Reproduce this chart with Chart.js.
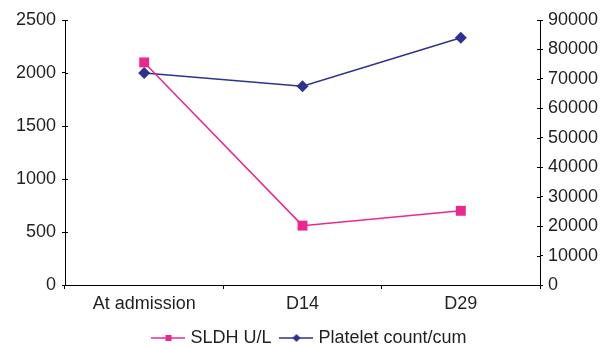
<!DOCTYPE html>
<html>
<head>
<meta charset="utf-8">
<script src="https://cdn.jsdelivr.net/npm/chart.js@4"></script>
<style>
  html, body { margin: 0; padding: 0; background: #fff; }
  #wrap { width: 614px; height: 348px; }
</style>
</head>
<body>
<div id="wrap"><canvas id="chart"></canvas></div>
<script>
// Chart data
const categories = ['At admission', 'D14', 'D29'];
const sldhValues = [2100, 560, 700];
const plateletValues = [72000, 67500, 84000];
const seriesNames = ['SLDH U/L', 'Platelet count/cum'];

const pink = '#ec268f';
const navy = '#2e3192';
const textColor = '#231f20';
const font = { family: '"Liberation Sans", Arial, sans-serif', size: 18 };

// Legend icon: short line with the marker in the middle
const legendIcon = (color, shape) => {
    const c = document.createElement('canvas');
    c.width = 34;
    c.height = 12;
    const ctx = c.getContext('2d');
    ctx.strokeStyle = color;
    ctx.lineWidth = 1.5;
    ctx.beginPath();
    ctx.moveTo(0, 6);
    ctx.lineTo(34, 6);
    ctx.stroke();
    ctx.fillStyle = color;
    ctx.beginPath();
    if (shape === 'rect') {
        ctx.rect(14, 3, 6, 6);
    } else {
        ctx.moveTo(17, 2);
        ctx.lineTo(21, 6);
        ctx.lineTo(17, 10);
        ctx.lineTo(13, 6);
        ctx.closePath();
    }
    ctx.fill();
    return c;
};

// Small tick marks on the inner side of both value axes
const innerTicks = {
    id: 'innerTicks',
    afterDraw(chart) {
        const ctx = chart.ctx;
        ctx.save();
        ctx.strokeStyle = '#000';
        ctx.lineWidth = 1;
        ['y', 'y1'].forEach(id => {
            const scale = chart.scales[id];
            const x = id === 'y' ? scale.right : scale.left;
            const dir = id === 'y' ? 1 : -1;
            scale.ticks.forEach((t, i) => {
                const y = Math.round(scale.getPixelForTick(i)) + 0.5;
                ctx.beginPath();
                ctx.moveTo(x, y);
                ctx.lineTo(x + dir * 3, y);
                ctx.stroke();
            });
        });
        ctx.restore();
    }
};

const plainNumber = (value) => String(value);

new Chart(document.getElementById('chart').getContext('2d'), {
    type: 'line',
    data: {
        labels: categories,
        datasets: [
            {
                label: seriesNames[0],
                data: sldhValues,
                yAxisID: 'y',
                borderColor: pink,
                backgroundColor: pink,
                borderWidth: 1.5,
                pointStyle: 'rect',
                pointRadius: 7,
                pointBorderWidth: 0,
                tension: 0
            },
            {
                label: seriesNames[1],
                data: plateletValues,
                yAxisID: 'y1',
                borderColor: navy,
                backgroundColor: navy,
                borderWidth: 1.5,
                pointStyle: 'rectRot',
                pointRadius: 6,
                pointBorderWidth: 0,
                tension: 0
            }
        ]
    },
    options: {
        responsive: true,
        maintainAspectRatio: false,
        animation: false,
        layout: { padding: { top: 20, left: 8, right: 0, bottom: -9 } },
        plugins: {
            tooltip: { enabled: false },
            legend: {
                position: 'bottom',
                labels: {
                    font: { ...font, lineHeight: 1 },
                    color: textColor,
                    usePointStyle: true,
                    pointStyleWidth: 26,
                    padding: 12,
                    generateLabels: (chart) => [
                        { text: seriesNames[0], pointStyle: legendIcon(pink, 'rect'), datasetIndex: 0, fontColor: textColor, lineWidth: 0 },
                        { text: seriesNames[1], pointStyle: legendIcon(navy, 'diamond'), datasetIndex: 1, fontColor: textColor, lineWidth: 0 }
                    ]
                }
            }
        },
        scales: {
            x: {
                offset: true,
                border: { color: '#000', width: 1 },
                grid: { offset: true, drawOnChartArea: false, color: '#000', tickLength: 4 },
                ticks: { font: font, color: textColor, padding: 4, maxRotation: 0 },
                afterFit: (scale) => { scale.height = 32; }
            },
            y: {
                position: 'left',
                min: 0,
                max: 2500,
                border: { color: '#000', width: 1 },
                grid: { drawOnChartArea: false, color: '#000', tickLength: 3 },
                ticks: { stepSize: 500, font: font, color: textColor, padding: 6, callback: plainNumber },
                afterFit: (scale) => { scale.width = 57; }
            },
            y1: {
                position: 'right',
                min: 0,
                max: 90000,
                border: { color: '#000', width: 1 },
                grid: { drawOnChartArea: false, color: '#000', tickLength: 3 },
                ticks: { stepSize: 10000, font: font, color: textColor, padding: 5, callback: plainNumber },
                afterFit: (scale) => { scale.width = 74; }
            }
        }
    },
    plugins: [innerTicks]
});
</script>
</body>
</html>
